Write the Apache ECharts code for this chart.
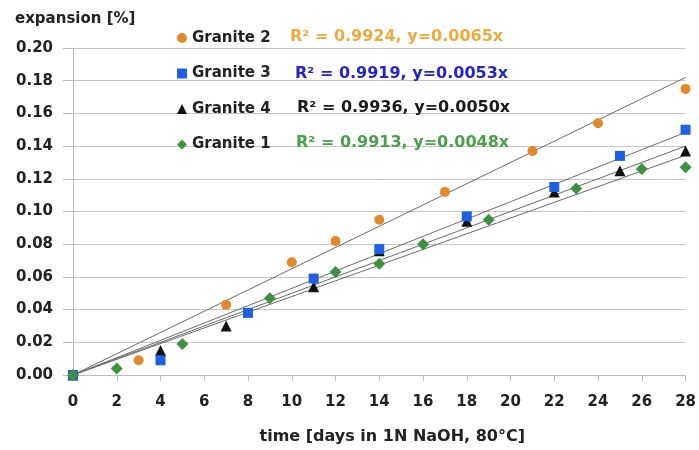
<!DOCTYPE html>
<html>
<head>
<meta charset="utf-8">
<script src="https://cdn.jsdelivr.net/npm/echarts@6/dist/echarts.min.js"></script>
<style>
html,body{margin:0;padding:0;background:#fff;}
#chart{width:699px;height:450px;}
</style>
</head>
<body>
<div id="chart"></div>
<script>
// ---- data ----
const seriesNames = ['Granite 2', 'Granite 3', 'Granite 4', 'Granite 1'];
const fitLabels = ['R\u00b2 = 0.9924, y=0.0065x', 'R\u00b2 = 0.9919, y=0.0053x', 'R\u00b2 = 0.9936, y=0.0050x', 'R\u00b2 = 0.9913, y=0.0048x'];
const slopes = [0.0065, 0.0053, 0.0050, 0.0048];

const daysG2 = [0, 3, 7, 10, 12, 14, 17, 21, 24, 28];
const expG2  = [0, 0.009, 0.043, 0.069, 0.082, 0.095, 0.112, 0.137, 0.154, 0.175];

const daysG3 = [0, 4, 8, 11, 14, 18, 22, 25, 28];
const expG3  = [0, 0.009, 0.038, 0.059, 0.077, 0.097, 0.115, 0.134, 0.150];

const daysG4 = [0, 4, 7, 11, 14, 18, 22, 25, 28];
const expG4  = [0, 0.015, 0.030, 0.054, 0.076, 0.094, 0.112, 0.125, 0.137];

const daysG1 = [0, 2, 5, 9, 12, 14, 16, 19, 23, 26, 28];
const expG1  = [0, 0.004, 0.019, 0.047, 0.063, 0.068, 0.080, 0.095, 0.114, 0.126, 0.127];

const xTicks = [0, 28, 2];      // min, max, interval
const yTicks = [0, 0.20, 0.02]; // min, max, interval

// ---- styles ----
const markerColors = ['#E3892C', '#1F5FE6', '#111111', '#3E923E'];
const textColors = ['#F2A93B', '#2424CC', '#1a1a1a', '#4AA14A'];
const symbols = ['circle', 'rect', 'triangle', 'diamond'];
const symbolSizes = [10, 10, 11, 12];
const zOrder = [3, 5, 4, 6];
const FONT = '"DejaVu Sans", sans-serif';

const allDays = [daysG2, daysG3, daysG4, daysG1];
const allExp = [expG2, expG3, expG4, expG1];

const series = [];
// trend lines
slopes.forEach((s, i) => {
  series.push({
    name: seriesNames[i] + ' fit',
    type: 'line',
    data: [[xTicks[0], s * xTicks[0]], [xTicks[1], s * xTicks[1]]],
    showSymbol: false,
    symbol: 'none',
    lineStyle: { color: '#6a6a6a', width: 1 },
    z: 1,
    silent: true
  });
});
// scatter points
seriesNames.forEach((n, i) => {
  series.push({
    name: n,
    type: 'scatter',
    symbol: symbols[i],
    symbolSize: symbolSizes[i],
    itemStyle: { color: markerColors[i], opacity: 1 },
    data: allDays[i].map((d, k) => [d, allExp[i][k]]),
    z: zOrder[i]
  });
});

const rowY = [38, 75, 109, 144];
const labelX = [290, 295, 297, 296];

const option = {
  backgroundColor: '#fff',
  animation: false,
  title: {
    text: 'expansion [%]',
    left: 15,
    top: 12,
    padding: 0,
    textStyle: { fontFamily: FONT, fontSize: 15, fontWeight: 'bold', color: '#222' }
  },
  grid: { left: 73, right: 9, top: 48, bottom: 67, containLabel: false },
  legend: {
    data: seriesNames,
    orient: 'vertical',
    left: 177,
    top: 30,
    padding: 0,
    itemWidth: 10,
    itemHeight: 10,
    itemGap: 19.5,
    textStyle: { fontFamily: FONT, fontSize: 15, fontWeight: 'bold', color: '#222', lineHeight: 16 }
  },
  xAxis: {
    type: 'value',
    min: xTicks[0],
    max: xTicks[1],
    interval: xTicks[2],
    name: 'time [days in 1N NaOH, 80\u00b0C]',
    nameLocation: 'middle',
    nameGap: 54,
    nameTextStyle: { fontFamily: FONT, fontSize: 16, fontWeight: 'bold', color: '#222', padding: [0, 0, 0, 26] },
    axisLine: { show: true, lineStyle: { color: '#bdbdbd' } },
    axisTick: { show: true, length: 6, lineStyle: { color: '#bdbdbd' } },
    splitLine: { show: false },
    axisLabel: { fontFamily: FONT, fontSize: 15, fontWeight: 'bold', color: '#222', margin: 20 }
  },
  yAxis: {
    type: 'value',
    min: yTicks[0],
    max: yTicks[1],
    interval: yTicks[2],
    axisLine: { show: true, lineStyle: { color: '#bdbdbd' } },
    axisTick: { show: true, length: 10, lineStyle: { color: '#bdbdbd' } },
    splitLine: { show: true, lineStyle: { color: '#c4c4c4', width: 1 } },
    axisLabel: {
      fontFamily: FONT, fontSize: 15, fontWeight: 'bold', color: '#222', margin: 20,
      formatter: v => v.toFixed(2)
    }
  },
  graphic: fitLabels.map((t, i) => ({
    type: 'text',
    left: labelX[i],
    top: rowY[i] - 9,
    style: {
      text: t,
      fill: textColors[i],
      font: 'bold 16px ' + FONT
    },
    z: 10
  })),
  series: series
};

const chart = echarts.init(document.getElementById('chart'), null, { renderer: 'canvas' });
chart.setOption(option);
</script>
</body>
</html>
